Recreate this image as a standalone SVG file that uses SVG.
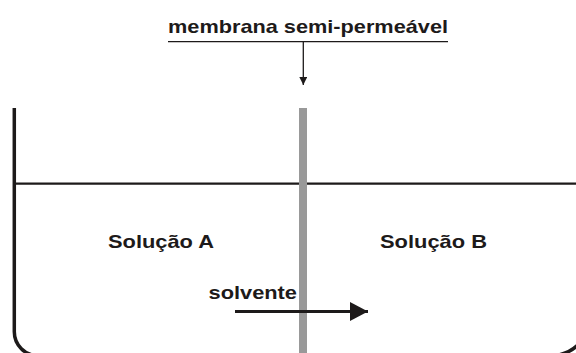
<svg xmlns="http://www.w3.org/2000/svg" width="576" height="353" viewBox="0 0 576 353">
<style>
.t{font-family:"Liberation Sans",Arial,sans-serif;font-weight:bold;font-size:19px;fill:#1d1a1a}
.k{stroke:#1d1a1a;fill:none}
</style>
<defs>
<marker id="ah" markerWidth="8" markerHeight="8" refX="8" refY="4" orient="auto" markerUnits="userSpaceOnUse"><path d="M0,0 L8,4 L0,8 Z" fill="#1d1a1a"/></marker>
<marker id="ah2" markerWidth="19" markerHeight="19" refX="18" refY="9.5" orient="auto" markerUnits="userSpaceOnUse"><path d="M0,0 L18,9.5 L0,19 Z" fill="#1d1a1a"/></marker>
</defs>
<rect width="576" height="353" fill="#fff"/>
<g id="container">
<path class="k" stroke-width="3.5" d="M14.3,108 V331.7 A24,24 0 0 0 38.3,355.7 H550.6 A40,40 0 0 0 590.6,315.7"/>
<line class="k" stroke-width="2.2" x1="14" y1="183.7" x2="576" y2="183.7"/>
</g>
<g id="membrane">
<rect x="299" y="108" width="8" height="246" fill="#999999"/>
</g>
<g id="label-membrana">
<text class="t" x="168" y="33" textLength="280" lengthAdjust="spacingAndGlyphs">membrana semi-permeável</text>
<line class="k" stroke-width="1.3" x1="168" y1="41.7" x2="448" y2="41.7"/>
</g>
<g id="solucao-a"><text class="t" x="108" y="248" textLength="106" lengthAdjust="spacingAndGlyphs">Solução A</text></g>
<g id="solucao-b"><text class="t" x="380" y="248" textLength="107" lengthAdjust="spacingAndGlyphs">Solução B</text></g>
<g id="solvente"><text class="t" x="208.5" y="299" textLength="88.5" lengthAdjust="spacingAndGlyphs">solvente</text></g>
<g id="connectors">
<line class="k" stroke-width="1.3" x1="303.3" y1="42" x2="303.3" y2="85" marker-end="url(#ah)"/>
<line class="k" stroke-width="3.2" x1="235" y1="311.5" x2="368" y2="311.5" marker-end="url(#ah2)"/>
</g>
</svg>
